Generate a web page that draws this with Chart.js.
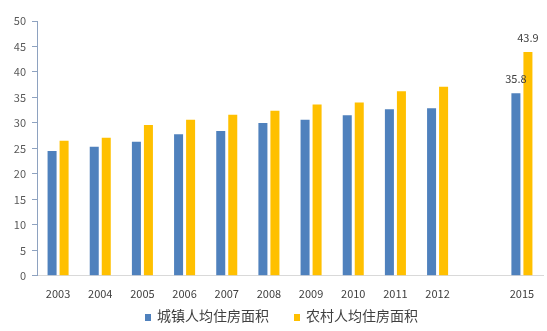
<!DOCTYPE html>
<html>
<head>
<meta charset="utf-8">
<script src="https://cdn.jsdelivr.net/npm/chart.js@4"></script>
<style>
  html, body { margin: 0; padding: 0; background: #fff; }
  #wrap { width: 547px; height: 331px; position: relative; }
</style>
</head>
<body>
<div id="wrap"><canvas id="c"></canvas></div>
<script>
// Per-capita housing area (m²), urban vs. rural; 2013–2014 left as an empty slot
const years = ['2003', '2004', '2005', '2006', '2007', '2008', '2009', '2010', '2011', '2012', '', '2015'];
const urbanArea = [24.5, 25.3, 26.3, 27.8, 28.4, 30.0, 30.6, 31.5, 32.7, 32.9, null, 35.8];
const ruralArea = [26.5, 27.1, 29.6, 30.6, 31.6, 32.4, 33.6, 34.0, 36.2, 37.1, null, 43.9];
const labelledIndex = [11];
const yTicks = [0, 5, 10, 15, 20, 25, 30, 35, 40, 45, 50];

const CJK = '"Noto Sans CJK SC", "Noto Sans", sans-serif';

// Value labels above the bars of selected categories
const valueLabels = {
  id: 'valueLabels',
  afterDatasetsDraw(chart) {
    const ctx = chart.ctx;
    ctx.save();
    ctx.font = '11px ' + CJK;
    ctx.fillStyle = '#404040';
    ctx.textAlign = 'center';
    ctx.textBaseline = 'alphabetic';
    chart.data.datasets.forEach((ds, di) => {
      const meta = chart.getDatasetMeta(di);
      labelledIndex.forEach(i => {
        const v = ds.data[i];
        if (v == null) return;
        const el = meta.data[i];
        ctx.fillText(v.toFixed(1), el.x, el.y - 10);
      });
    });
    ctx.restore();
  }
};

// Legend row under the axis: small square swatch followed by the series name
const bottomLegend = {
  id: 'bottomLegend',
  afterDraw(chart) {
    const ctx = chart.ctx;
    const ds = chart.data.datasets;
    const box = 6, boxGap = 6, itemGap = 25;
    ctx.save();
    ctx.font = '14px ' + CJK;
    const widths = ds.map(d => box + boxGap + ctx.measureText(d.label).width);
    const total = widths.reduce((a, b) => a + b, 0) + itemGap * (ds.length - 1);
    let x = chart.width / 2 + 8 - total / 2;
    const y = 316;
    ds.forEach((d, i) => {
      ctx.fillStyle = d.backgroundColor;
      ctx.fillRect(x, y - 2, box, 7);
      ctx.fillStyle = '#404040';
      ctx.textAlign = 'left';
      ctx.textBaseline = 'middle';
      ctx.fillText(d.label, x + box + boxGap, y);
      x += widths[i] + itemGap;
    });
    ctx.restore();
  }
};

new Chart(document.getElementById('c'), {
  type: 'bar',
  data: {
    labels: years,
    datasets: [
      { label: '城镇人均住房面积', data: urbanArea, backgroundColor: '#4F81BD' },
      { label: '农村人均住房面积', data: ruralArea, backgroundColor: '#FFC000' }
    ]
  },
  options: {
    responsive: true,
    maintainAspectRatio: false,
    animation: false,
    devicePixelRatio: 1,
    layout: { padding: { left: 0, right: 4, top: 21, bottom: 20 } },
    datasets: { bar: { categoryPercentage: 0.57, barPercentage: 0.75 } },
    plugins: {
      legend: { display: false },
      tooltip: { enabled: false }
    },
    scales: {
      x: {
        grid: { display: false, drawTicks: false },
        border: { color: '#D9D9D9' },
        ticks: { font: { family: CJK, size: 11 }, color: '#404040', padding: 11, maxRotation: 0, autoSkip: false }
      },
      y: {
        min: 0, max: 50,
        afterBuildTicks: s => { s.ticks = yTicks.map(v => ({ value: v })); },
        afterFit: s => { s.width = 37; },
        grid: { drawOnChartArea: false, drawTicks: true, tickLength: 5, color: '#8EA2C0' },
        border: { color: '#8EA2C0' },
        ticks: { font: { family: CJK, size: 11 }, color: '#595959', padding: 6 }
      }
    }
  },
  plugins: [valueLabels, bottomLegend]
});
</script>
</body>
</html>
